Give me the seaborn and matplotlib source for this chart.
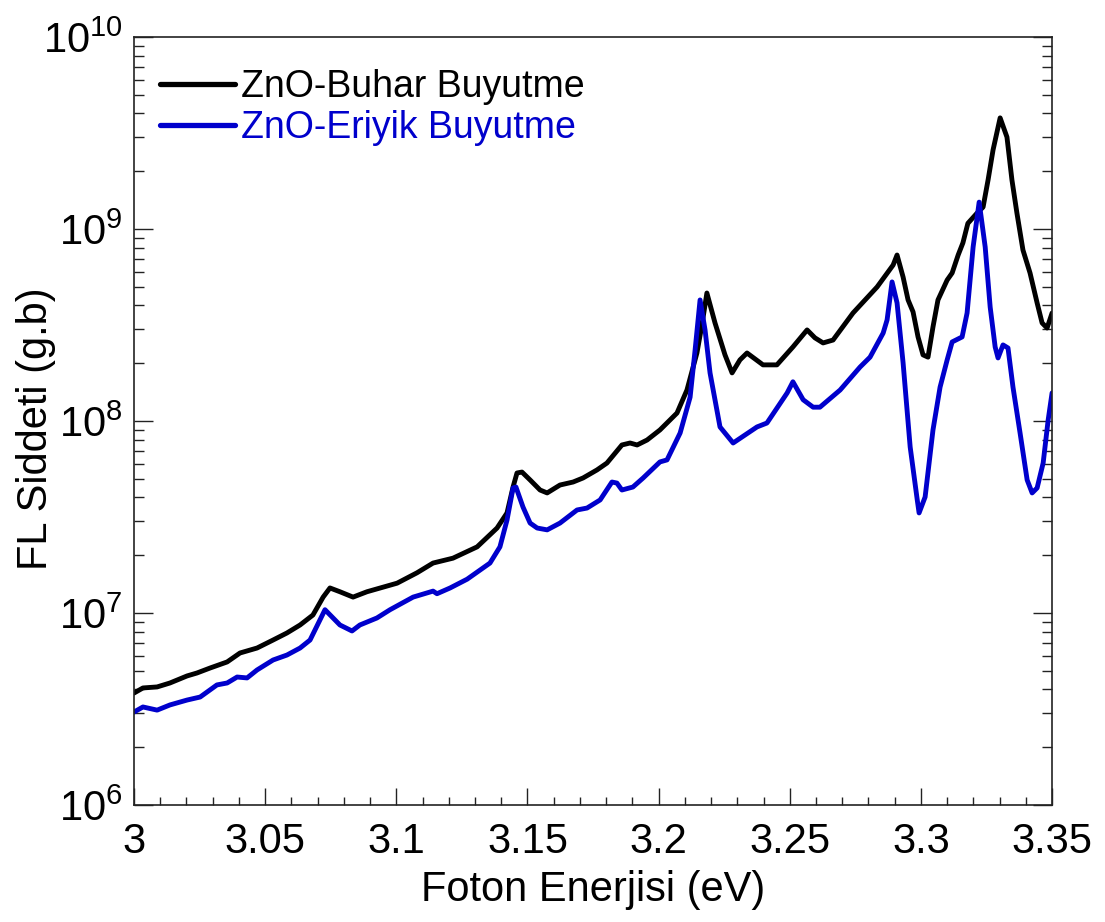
import pandas as pd
import numpy as np
import matplotlib
matplotlib.use("Agg")
import matplotlib.pyplot as plt
import seaborn as sns
from matplotlib.ticker import LogLocator, FixedLocator, MultipleLocator

# 数据：从图上读取
energy_buhar = [3.000, 3.0034, 3.0088, 3.0137, 3.0202, 3.0240, 3.0290, 3.0355, 3.0404, 3.0469,
                3.0530, 3.0583, 3.0633, 3.0682, 3.0721, 3.0747, 3.0785, 3.0835, 3.0888, 3.1003,
                3.1079, 3.1140, 3.1216, 3.1308, 3.1384, 3.1422, 3.1445, 3.1460, 3.1479, 3.1510,
                3.1548, 3.1575, 3.1624, 3.1674, 3.1712, 3.1765, 3.1803, 3.1860, 3.1891, 3.1918,
                3.1956, 3.2005, 3.2070, 3.2108, 3.2146, 3.2165, 3.2184, 3.2215, 3.2253, 3.2280,
                3.2310, 3.2337, 3.2398, 3.2451, 3.2512, 3.2566, 3.2596, 3.2627, 3.2665, 3.2741,
                3.2833, 3.2894, 3.2909, 3.2932, 3.2951, 3.2970, 3.2989, 3.3008, 3.3027, 3.3046,
                3.3065, 3.3100, 3.3119, 3.3142, 3.3160, 3.3179, 3.3214, 3.3237, 3.3256, 3.3275,
                3.3302, 3.3328, 3.3347, 3.3366, 3.3389, 3.3416, 3.3443, 3.3462, 3.3481, 3.3500]
fl_buhar = [3.83e6, 4.07e6, 4.12e6, 4.32e6, 4.70e6, 4.87e6, 5.17e6, 5.56e6, 6.19e6, 6.57e6,
            7.23e6, 7.87e6, 8.66e6, 9.76e6, 1.21e7, 1.35e7, 1.29e7, 1.21e7, 1.29e7, 1.43e7,
            1.62e7, 1.82e7, 1.93e7, 2.21e7, 2.77e7, 3.32e7, 4.53e7, 5.36e7, 5.42e7, 4.93e7,
            4.37e7, 4.22e7, 4.64e7, 4.81e7, 5.05e7, 5.56e7, 6.04e7, 7.50e7, 7.68e7, 7.50e7,
            7.96e7, 8.98e7, 1.10e8, 1.45e8, 2.26e8, 3.16e8, 4.64e8, 3.24e8, 2.21e8, 1.78e8,
            2.08e8, 2.26e8, 1.96e8, 1.96e8, 2.43e8, 2.98e8, 2.71e8, 2.55e8, 2.64e8, 3.65e8,
            4.99e8, 6.49e8, 7.32e8, 5.62e8, 4.27e8, 3.70e8, 2.74e8, 2.21e8, 2.15e8, 3.09e8,
            4.27e8, 5.42e8, 5.90e8, 7.32e8, 8.46e8, 1.07e9, 1.21e9, 1.30e9, 1.80e9, 2.58e9,
            3.79e9, 3.01e9, 1.80e9, 1.21e9, 7.77e8, 5.90e8, 4.12e8, 3.24e8, 3.05e8, 3.65e8]

energy_eriyik = [3.000, 3.0034, 3.0088, 3.0137, 3.0202, 3.0252, 3.0316, 3.0355, 3.0393, 3.0431,
                 3.0469, 3.0530, 3.0583, 3.0633, 3.0671, 3.0728, 3.0785, 3.0831, 3.0861, 3.0926,
                 3.0976, 3.1064, 3.1140, 3.1155, 3.1205, 3.1270, 3.1357, 3.1395, 3.1422, 3.1445,
                 3.1456, 3.1483, 3.1510, 3.1537, 3.1575, 3.1624, 3.1689, 3.1727, 3.1777, 3.1822,
                 3.1841, 3.1860, 3.1902, 3.1941, 3.2005, 3.2032, 3.2082, 3.2120, 3.2139, 3.2158,
                 3.2177, 3.2196, 3.2234, 3.2284, 3.2375, 3.2413, 3.2490, 3.2512, 3.2551, 3.2589,
                 3.2615, 3.2692, 3.2768, 3.2806, 3.2856, 3.2871, 3.2890, 3.2909, 3.2932, 3.2959,
                 3.2986, 3.2993, 3.3016, 3.3046, 3.3073, 3.3100, 3.3119, 3.3157, 3.3176, 3.3199,
                 3.3222, 3.3245, 3.3264, 3.3283, 3.3294, 3.3313, 3.3332, 3.3351, 3.3378, 3.3405,
                 3.3424, 3.3443, 3.3466, 3.3485, 3.3500]
fl_eriyik = [3.05e6, 3.24e6, 3.12e6, 3.32e6, 3.52e6, 3.65e6, 4.22e6, 4.32e6, 4.64e6, 4.59e6,
             5.05e6, 5.69e6, 6.04e6, 6.57e6, 7.23e6, 1.04e7, 8.66e6, 8.06e6, 8.66e6, 9.42e6,
             1.04e7, 1.21e7, 1.30e7, 1.26e7, 1.35e7, 1.50e7, 1.82e7, 2.21e7, 3.05e7, 4.48e7,
             4.53e7, 3.56e7, 2.94e7, 2.77e7, 2.71e7, 2.94e7, 3.44e7, 3.52e7, 3.88e7, 4.81e7,
             4.75e7, 4.37e7, 4.53e7, 5.05e7, 6.12e7, 6.27e7, 8.66e7, 1.33e8, 2.34e8, 4.27e8,
             2.98e8, 1.78e8, 9.31e7, 7.68e7, 9.31e7, 9.76e7, 1.40e8, 1.60e8, 1.29e8, 1.18e8,
             1.18e8, 1.45e8, 1.91e8, 2.15e8, 2.87e8, 3.36e8, 5.30e8, 4.12e8, 2.01e8, 7.32e7,
             3.88e7, 3.32e7, 4.02e7, 8.98e7, 1.50e8, 2.08e8, 2.58e8, 2.74e8, 3.65e8, 8.06e8,
             1.38e9, 8.06e8, 3.92e8, 2.43e8, 2.13e8, 2.49e8, 2.40e8, 1.50e8, 8.66e7, 4.93e7,
             4.22e7, 4.48e7, 6.04e7, 1.01e8, 1.40e8]

labels = ["ZnO-Buhar Buyutme", "ZnO-Eriyik Buyutme"]
colors = ["#000000", "#0000cc"]
xticks = [3.0, 3.05, 3.1, 3.15, 3.2, 3.25, 3.3, 3.35]
xticklabels = ["3", "3.05", "3.1", "3.15", "3.2", "3.25", "3.3", "3.35"]

df = pd.concat([
    pd.DataFrame({"E": energy_buhar, "FL": fl_buhar, "Numune": labels[0]}),
    pd.DataFrame({"E": energy_eriyik, "FL": fl_eriyik, "Numune": labels[1]}),
], ignore_index=True)

sns.set_style("ticks")
plt.rcParams["font.family"] = ["Liberation Sans", "DejaVu Sans"]
plt.rcParams["mathtext.fontset"] = "custom"
plt.rcParams["mathtext.rm"] = "Liberation Sans"
plt.rcParams["text.color"] = "black"
plt.rcParams["axes.labelcolor"] = "black"
plt.rcParams["xtick.color"] = "black"
plt.rcParams["ytick.color"] = "black"

fig = plt.figure(figsize=(11.05, 9.22), dpi=100)
ax = fig.add_axes([0.1213, 0.1269, 0.8308, 0.8330])

sns.lineplot(data=df, x="E", y="FL", hue="Numune", palette=dict(zip(labels, colors)),
             estimator=None, sort=False, linewidth=3.5, ax=ax, legend=False)

ax.set_yscale("log")
ax.set_xlim(3.0, 3.35)
ax.set_ylim(1e6, 1e10)

ax.xaxis.set_major_locator(FixedLocator(xticks))
ax.set_xticklabels(xticklabels)
ax.xaxis.set_minor_locator(MultipleLocator(0.01))
ax.yaxis.set_major_locator(LogLocator(base=10, numticks=10))
ax.yaxis.set_minor_locator(LogLocator(base=10, subs=np.arange(2, 10), numticks=50))

ax.tick_params(which="both", direction="in", top=False, right=True, labelsize=30,
               color="#222222", labelcolor="black")
ax.tick_params(axis="x", which="major", length=12, width=1, pad=12)
ax.tick_params(axis="x", which="minor", length=6, width=1)
ax.tick_params(axis="y", which="major", length=14, width=1, pad=8)
ax.tick_params(axis="y", which="minor", length=7, width=1)
for sp in ax.spines.values():
    sp.set_visible(True)
    sp.set_linewidth(1.2)
    sp.set_color("#222222")

ax.set_xlabel("Foton Enerjisi (eV)", fontsize=30, labelpad=6)
ax.set_ylabel("FL Siddeti (g.b)", fontsize=30, va="center")
ax.yaxis.set_label_coords(-0.107, 0.49)

handles = [plt.Line2D([], [], color=c, linewidth=3.8) for c in colors]
ax.legend(handles, labels, loc="upper left", bbox_to_anchor=(0.0, 0.992), frameon=False,
          fontsize=27, handlelength=2.0, handletextpad=0.15, labelspacing=0.12,
          borderaxespad=0.3, labelcolor=colors)

fig.savefig("out.png", dpi=100)
